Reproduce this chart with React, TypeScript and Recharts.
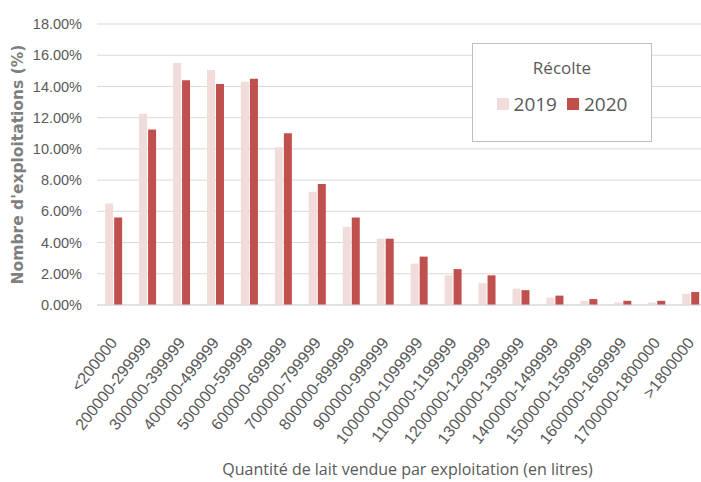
import { BarChart, Bar, XAxis, YAxis, CartesianGrid, Legend } from "recharts";

// Tranches de volume de lait vendu
const categories = [
  "<200000",
  "200000-299999",
  "300000-399999",
  "400000-499999",
  "500000-599999",
  "600000-699999",
  "700000-799999",
  "800000-899999",
  "900000-999999",
  "1000000-1099999",
  "1100000-1199999",
  "1200000-1299999",
  "1300000-1399999",
  "1400000-1499999",
  "1500000-1599999",
  "1600000-1699999",
  "1700000-1800000",
  ">1800000",
];

// Part des exploitations (%)
const values2019 = [6.5, 12.25, 15.5, 15.05, 14.3, 10.1, 7.25, 5.0, 4.25, 2.65, 1.9, 1.4, 1.05, 0.47, 0.27, 0.16, 0.16, 0.72];
const values2020 = [5.6, 11.25, 14.4, 14.15, 14.5, 11.0, 7.75, 5.6, 4.25, 3.1, 2.3, 1.9, 0.95, 0.6, 0.38, 0.27, 0.27, 0.83];

const yTicks = [0, 2, 4, 6, 8, 10, 12, 14, 16, 18];

const COLOR_2019 = "#f2dcdb";
const COLOR_2020 = "#c0504d";
const TEXT = "#595959";

const data = categories.map((name, i) => ({
  name,
  y2019: values2019[i],
  y2020: values2020[i],
}));

const AngledTick = ({ x, y, payload }: any) => {
  const px = x + 4;
  const py = y + 30;
  return (
    <text
      x={px}
      y={py}
      transform={`rotate(-52, ${px}, ${py})`}
      textAnchor="end"
      fill={TEXT}
      fontSize={16}
      fontFamily="Liberation Sans"
    >
      {payload.value}
    </text>
  );
};

const LegendBox = () => (
  <div
    style={{
      width: 180,
      height: 99,
      boxSizing: "border-box",
      border: "1px solid #bfbfbf",
      background: "#fff",
      fontFamily: "Open Sans",
      color: TEXT,
      textAlign: "center",
    }}
  >
    <div style={{ fontSize: 17, marginTop: 12 }}>Récolte</div>
    <div style={{ display: "flex", justifyContent: "center", alignItems: "center", marginTop: 13, fontSize: 19, lineHeight: "24px" }}>
      <span style={{ width: 12, height: 12, background: COLOR_2019, marginRight: 5 }} />
      <span style={{ marginRight: 10 }}>2019</span>
      <span style={{ width: 12, height: 12, background: COLOR_2020, marginRight: 5 }} />
      <span>2020</span>
    </div>
  </div>
);

export default function App() {
  return (
    <div style={{ position: "absolute", left: 0, top: 0, width: 701, height: 482, overflow: "hidden", background: "#fff" }}>
      <BarChart
        width={710}
        height={482}
        data={data}
        margin={{ top: 24, right: 2, bottom: 0, left: 0 }}
        barCategoryGap="24%"
        barGap={1}
      >
        <CartesianGrid vertical={false} stroke="#d9d9d9" />
        <XAxis
          dataKey="name"
          interval={0}
          height={177}
          tick={<AngledTick />}
          tickLine={false}
          axisLine={{ stroke: "#d9d9d9" }}
          label={{
            value: "Quantité de lait vendue par exploitation (en litres)",
            position: "insideBottom",
            offset: 7,
            dx: 5,
            fill: TEXT,
            fontSize: 16,
            fontFamily: "Open Sans",
          }}
        />
        <YAxis
          width={97}
          domain={[0, 18]}
          ticks={yTicks}
          tickFormatter={(v: number) => `${v.toFixed(2)}%`}
          tick={{ fill: TEXT, fontSize: 14.5, fontFamily: "Liberation Sans" }}
          tickSize={0}
          tickMargin={15}
          axisLine={false}
          tickLine={false}
          label={{
            value: "Nombre d'exploitations (%)",
            angle: -90,
            position: "insideLeft",
            offset: 17,
            fill: "#7f7f7f",
            fontSize: 15.5,
            fontWeight: "bold",
            fontFamily: "DejaVu Sans",
            style: { textAnchor: "middle" },
          }}
        />
        <Legend
          layout="horizontal"
          verticalAlign="middle"
          align="center"
          content={<LegendBox />}
          wrapperStyle={{ position: "absolute", left: 472, top: 43, width: 180, height: 99 }}
        />
        <Bar dataKey="y2019" name="2019" fill={COLOR_2019} isAnimationActive={false} />
        <Bar dataKey="y2020" name="2020" fill={COLOR_2020} isAnimationActive={false} />
      </BarChart>
    </div>
  );
}
